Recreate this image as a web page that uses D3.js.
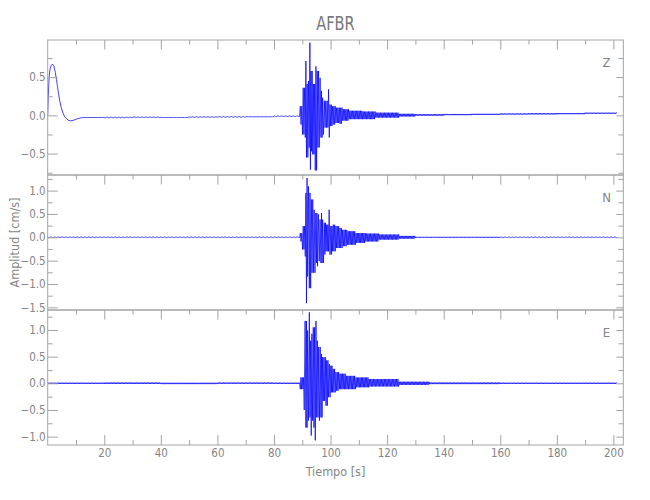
<!DOCTYPE html>
<html>
<head>
<meta charset="utf-8">
<script src="https://cdn.jsdelivr.net/npm/d3@7"></script>
<style>
  html, body { margin: 0; padding: 0; background: #fff; }
  svg { display: block; }
  .lbl { font-family: "Liberation Sans Narrow", "DejaVu Sans Condensed", "Liberation Sans", sans-serif; font-stretch: condensed; fill: #858585; }
</style>
</head>
<body>
<svg id="chart" width="650" height="500"></svg>
<script>
// ---------------- data ----------------
const title = "AFBR";
const channels = ["Z", "N", "E"];
const xLabel = "Tiempo [s]";
const yLabel = "Amplitud [cm/s]";
const xDomain = [0, 203.5];
const xMajor = [20, 40, 60, 80, 100, 120, 140, 160, 180, 200];
const xMinor = [10, 30, 50, 70, 90, 110, 130, 150, 170, 190];

// y ranges of each panel
const zDomain = [-0.78, 0.985];
const nDomain = [-1.557, 1.334];
const eDomain = [-1.157, 1.375];
const zMajor = [-0.5, 0, 0.5];
const zMinor = [-0.75, -0.25, 0.25, 0.75];
const nMajor = [-1.5, -1, -0.5, 0, 0.5, 1];
const nMinor = [-1.25, -0.75, -0.25, 0.25, 0.75, 1.25];
const eMajor = [-1, -0.5, 0, 0.5, 1];
const eMinor = [-0.75, -0.25, 0.25, 0.75, 1.25];

// Z: initial pulse (time, value)
const zPulseT = [0, 0.2, 0.5, 0.8, 1.2, 1.7, 2.2, 2.7, 3.1, 3.6, 4.2, 4.8, 5.4, 6.0, 6.6, 7.3, 8.1, 9.0, 10.1, 11.0, 12.0];
const zPulseV = [0, 0.25, 0.5, 0.6, 0.65, 0.67, 0.64, 0.56, 0.47, 0.34, 0.2, 0.1, 0.03, -0.02, -0.04, -0.065, -0.072, -0.065, -0.05, -0.04, -0.03];

// Z: segment boundaries (s) with upper / lower extent of the trace in each segment
const zT  = [12, 20, 30, 40, 50, 60, 70, 80, 89.3, 90.1, 91.07, 91.5, 92.2, 92.7, 93.07, 93.7, 94.6, 95.3, 96.0, 96.6, 97.2, 97.8, 99.3, 99.8, 100.7, 101.9, 103.1, 104.3, 106.6, 111.3, 116.0, 124.3, 130, 140, 150, 160, 170, 180, 190, 201.3];
const zHi = [-0.025, -0.024, -0.021, -0.022, -0.018, -0.016, -0.015, -0.008, 0.12, 0.36, 0.71, 0.41, 0.45, 0.95, 0.58, 0.41, 0.64, 0.58, 0.49, 0.32, 0.23, 0.19, 0.34, 0.14, 0.12, 0.10, 0.10, 0.08, 0.06, 0.05, 0.035, 0.02, 0.015, 0.018, 0.02, 0.025, 0.028, 0.03, 0.035];
const zLo = [-0.035, -0.032, -0.029, -0.031, -0.026, -0.024, -0.024, -0.016, -0.12, -0.25, -0.29, -0.55, -0.42, -0.71, -0.47, -0.51, -0.72, -0.42, -0.42, -0.29, -0.25, -0.16, -0.29, -0.14, -0.12, -0.10, -0.11, -0.07, -0.05, -0.05, -0.03, -0.015, -0.005, 0.002, 0.005, 0.01, 0.012, 0.015, 0.02];

// N
const nT  = [0, 30, 60, 89.3, 90.1, 91.07, 91.5, 91.9, 92.5, 93.2, 94.2, 94.8, 95.4, 96.0, 96.6, 97.2, 97.8, 98.4, 99.5, 100.1, 100.7, 101.9, 103.1, 104.3, 106.0, 109.0, 112.5, 117.2, 124.3, 130, 160, 201.3];
const nHi = [0.006, 0.006, 0.006, 0.09, 0.24, 0.95, 1.27, 1.09, 0.95, 0.81, 0.59, 0.52, 0.49, 0.38, 0.52, 0.38, 0.31, 0.27, 0.59, 0.24, 0.27, 0.24, 0.20, 0.16, 0.13, 0.09, 0.08, 0.06, 0.03, 0.01, 0.006];
const nLo = [-0.006, -0.006, -0.006, -0.09, -0.26, -0.41, -1.41, -0.84, -1.09, -0.76, -0.76, -0.55, -0.62, -0.51, -0.55, -0.55, -0.37, -0.30, -0.37, -0.37, -0.30, -0.23, -0.23, -0.19, -0.16, -0.12, -0.09, -0.05, -0.03, -0.01, -0.006];

// E
const eT  = [0, 20, 40, 60, 80, 89.3, 90.7, 91.3, 91.9, 92.5, 92.95, 93.4, 93.9, 94.6, 95.1, 95.8, 96.6, 97.2, 98.4, 99.3, 100.1, 100.7, 101.9, 103.1, 105.4, 109.0, 113.7, 124.3, 135, 160, 201.3];
const eHi = [0.012, 0.015, 0.01, 0.015, 0.012, 0.11, 1.17, 1.17, 0.99, 1.33, 0.80, 0.93, 1.05, 1.17, 0.80, 0.68, 0.55, 0.49, 0.43, 0.36, 0.33, 0.27, 0.21, 0.18, 0.14, 0.11, 0.08, 0.03, 0.015, 0.012];
const eLo = [-0.012, -0.012, -0.015, -0.01, -0.012, -0.11, -0.5, -0.83, -0.70, -0.64, -0.98, -0.70, -0.83, -1.07, -0.64, -0.70, -0.64, -0.33, -0.42, -0.26, -0.17, -0.17, -0.14, -0.11, -0.11, -0.075, -0.06, -0.03, -0.015, -0.012];

// ---------------- layout ----------------
const svg = d3.select("#chart");
const plotL = 47.7, plotR = 623.3;
const panelTops = [40, 175, 310];
const panelH = 135;
const axisColor = "#a3a3a3";
const textColor = "#858585";
const lineColor = "#0000ff";
const fontFam = '"Liberation Sans Narrow", "DejaVu Sans Condensed", "Liberation Sans", sans-serif';

const x = d3.scaleLinear().domain(xDomain).range([plotL, plotR]);

function trace(T, hi, lo, step) {
  const pts = [];
  let k = 0;
  for (let i = 0; i < hi.length; i++) {
    const n = Math.max(1, Math.round((T[i + 1] - T[i]) / step));
    for (let j = 0; j < n; j++) {
      const t = T[i] + (T[i + 1] - T[i]) * j / n;
      pts.push([t, (k++ % 2 === 0) ? hi[i] : lo[i]]);
    }
  }
  pts.push([T[T.length - 1], (hi[hi.length - 1] + lo[lo.length - 1]) / 2]);
  return pts;
}

const zPts = zPulseT.map((t, i) => [t, zPulseV[i]]).concat(trace(zT, zHi, zLo, 0.24).slice(1));
const nPts = trace(nT, nHi, nLo, 0.24);
const ePts = trace(eT, eHi, eLo, 0.24);

const panels = [
  { name: channels[0], domain: zDomain, major: zMajor, minor: zMinor, pts: zPts },
  { name: channels[1], domain: nDomain, major: nMajor, minor: nMinor, pts: nPts },
  { name: channels[2], domain: eDomain, major: eMajor, minor: eMinor, pts: ePts }
];

const fmtY = d => d3.format(".1f")(d);

function styleAxis(g) {
  g.select(".domain").remove();
  g.selectAll("line").attr("stroke", axisColor).attr("stroke-width", 1);
  g.selectAll("text").attr("fill", textColor).attr("font-family", fontFam).attr("font-size", 11.5);
}

const defs = svg.append("defs");

panels.forEach((p, i) => {
  const top = panelTops[i], bot = top + panelH;
  const y = d3.scaleLinear().domain(p.domain).range([bot, top]);

  defs.append("clipPath").attr("id", "clip" + i)
    .append("rect").attr("x", plotL).attr("y", top).attr("width", plotR - plotL).attr("height", panelH);

  // trace
  const line = d3.line().x(d => x(d[0])).y(d => y(d[1]));
  svg.append("path")
    .datum(p.pts)
    .attr("clip-path", "url(#clip" + i + ")")
    .attr("fill", "none")
    .attr("stroke", lineColor)
    .attr("stroke-width", 0.75)
    .attr("d", line);

  // left axis: major with labels
  svg.append("g").attr("transform", `translate(${plotL},0)`)
    .call(d3.axisLeft(y).tickValues(p.major).tickSizeInner(-10).tickSizeOuter(0).tickPadding(2).tickFormat(fmtY))
    .call(styleAxis);
  svg.append("g").attr("transform", `translate(${plotL},0)`)
    .call(d3.axisLeft(y).tickValues(p.minor).tickSizeInner(-5).tickSizeOuter(0).tickFormat(""))
    .call(styleAxis);
  // right axis
  svg.append("g").attr("transform", `translate(${plotR},0)`)
    .call(d3.axisRight(y).tickValues(p.major).tickSizeInner(-7).tickSizeOuter(0).tickFormat(""))
    .call(styleAxis);
  svg.append("g").attr("transform", `translate(${plotR},0)`)
    .call(d3.axisRight(y).tickValues(p.minor).tickSizeInner(-5).tickSizeOuter(0).tickFormat(""))
    .call(styleAxis);

  // top x ticks (pointing down)
  svg.append("g").attr("transform", `translate(0,${top})`)
    .call(d3.axisTop(x).tickValues(xMajor).tickSizeInner(-9.5).tickSizeOuter(0).tickFormat(""))
    .call(styleAxis);
  svg.append("g").attr("transform", `translate(0,${top})`)
    .call(d3.axisTop(x).tickValues(xMinor).tickSizeInner(-4.5).tickSizeOuter(0).tickFormat(""))
    .call(styleAxis);

  if (i === panels.length - 1) {
    svg.append("g").attr("transform", `translate(0,${bot})`)
      .call(d3.axisBottom(x).tickValues(xMajor).tickSizeInner(-10).tickSizeOuter(0).tickPadding(4).tickFormat(d3.format("d")))
      .call(styleAxis);
    svg.append("g").attr("transform", `translate(0,${bot})`)
      .call(d3.axisBottom(x).tickValues(xMinor).tickSizeInner(-5).tickSizeOuter(0).tickFormat(""))
      .call(styleAxis);
  }

  // frame
  svg.append("rect")
    .attr("x", plotL).attr("y", top).attr("width", plotR - plotL).attr("height", panelH)
    .attr("fill", "none").attr("stroke", axisColor).attr("stroke-width", 1);

  // channel label
  svg.append("text").attr("class", "lbl")
    .attr("x", 606.5).attr("y", top + 26.5)
    .attr("text-anchor", "middle")
    .attr("font-size", 13)
    .text(p.name);
});

// title
svg.append("text").attr("class", "lbl")
  .attr("transform", `translate(${(plotL + plotR) / 2},30) scale(0.85,1)`)
  .attr("text-anchor", "middle").attr("font-size", 19)
  .style("fill", "#777")
  .text(title);

// x label
svg.append("text").attr("class", "lbl")
  .attr("x", (plotL + plotR) / 2).attr("y", 476)
  .attr("text-anchor", "middle").attr("font-size", 12.5)
  .text(xLabel);

// y label
svg.append("text").attr("class", "lbl")
  .attr("transform", `translate(19,${(panelTops[0] + panelTops[2] + panelH) / 2}) rotate(-90)`)
  .attr("text-anchor", "middle").attr("font-size", 12.5)
  .text(yLabel);
</script>
</body>
</html>
